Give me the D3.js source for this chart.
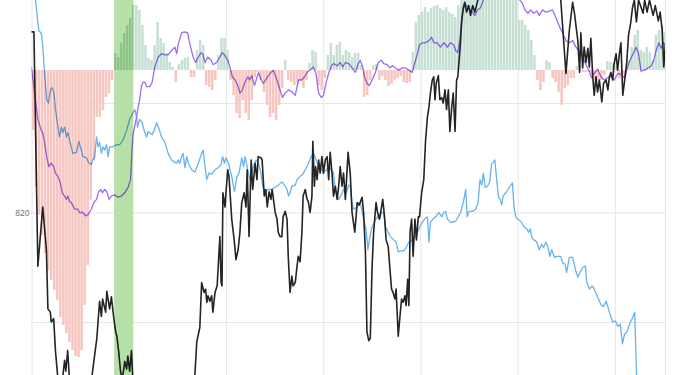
<!doctype html>
<html>
  <head>
    <meta charset="utf-8">
    <title>chart</title>
    <script src="https://cdn.jsdelivr.net/npm/d3@7"></script>
    <style>
      html, body { margin: 0; padding: 0; background: #fff; }
      svg { display: block; }
    </style>
  </head>
  <body>
    <svg width="685" height="375"></svg>
    <script>
      // histogram, one bar per step
      var histValues = [-6.0,-11.7,-14.5,-16.5,-18.3,-20.0,-21.0,-22.0,-23.0,-24.7,-25.5,-26.3,-27.2,-28.0,-28.6,-28.7,-28.0,-23.5,-19.5,-13.0,
        -9.0,-4.7,-4.7,-4.0,-2.7,-2.3,-1.0,1.7,1.3,2.7,3.7,4.5,5.2,6.5,6.5,6.0,4.5,2.5,1.2,1.0,
        2.5,4.8,3.2,2.7,1.7,0.8,0.3,-1.2,0.6,1.0,1.2,1.3,-0.7,-0.7,2.0,3.0,2.5,-1.5,-1.7,-2.0,
        -1.0,1.5,3.2,3.2,2.0,-1.0,-2.5,-4.3,-4.8,-3.0,-4.3,-5.0,-3.0,-0.7,-0.2,-1.0,-2.2,-3.5,-4.7,-4.3,
        -5.0,-3.5,-1.8,1.0,-1.0,-1.2,-1.5,-1.2,-1.0,-1.8,-1.0,0.7,2.0,1.8,-1.5,-2.0,-0.8,1.5,2.7,1.5,
        2.5,2.8,1.5,2.0,1.8,1.3,1.7,1.7,0.5,-2.7,-2.5,-1.0,0.5,0.6,-1.0,-0.6,-1.0,-1.6,-1.4,-1.0,
        -0.8,-0.6,-1.2,-1.3,-1.2,1.8,4.8,5.5,5.8,6.3,5.8,6.2,6.4,6.5,6.2,6.0,6.3,5.8,5.6,5.3,
        6.5,7.5,8.5,9.0,9.5,9.0,10.0,9.5,10.0,10.5,10.0,9.5,10.0,9.5,9.0,9.5,9.0,8.5,8.0,7.5,
        5.0,5.0,4.5,4.0,3.0,1.5,-1.0,-2.0,-1.2,1.0,0.8,-0.8,-1.2,-2.2,-3.5,-1.8,-1.5,-0.8,-0.8,0.4,
        0.5,-0.2,-0.2,-0.2,-0.5,-1.0,-1.0,-1.0,-0.5,0.9,0.8,0.7,0.4,-0.8,-0.4,-0.6,1.0,2.3,3.5,4.0,
        2.0,1.8,2.3,1.8,1.0,3.5,4.0,4.5,3.8];

      var blackPts = [[0,836.5],[0.8,836.5],[2.1,815.1],[3.7,820.5],[4.9,816.6],[5.4,811.2],[6.2,810.9],[6.5,810.0],[7.3,810.3],[7.9,807.3],
        [8.7,804.8],[9.6,803.0],[10.2,804.8],[10.9,806.5],[11.3,805.5],[11.9,807.4],[12.7,803.9],[15.8,802.1],[19.1,803.5],[20.1,805.5],
        [21.5,808.5],[22.4,811.9],[23.0,810.5],[23.4,812.1],[24.4,810.9],[24.8,812.8],[25.7,811.2],[26.3,812.3],[27.1,810.3],[27.7,809.1],
        [28.1,808.7],[28.7,807.3],[29.3,805.5],[29.9,804.8],[30.7,806.4],[31.3,805.7],[31.7,806.9],[32.3,805.5],[32.9,807.4],[33.5,803.9],
        [38.9,801.2],[48.8,801.2],[53.1,803.9],[53.8,805.3],[54.4,808.2],[55.4,809.5],[56.0,813.6],[56.8,812.7],[57.3,813.0],[57.7,811.8],
        [58.1,812.4],[58.7,811.9],[59.3,812.4],[59.7,810.9],[60.4,812.7],[61.1,813.3],[62.0,817.8],[62.4,813.6],[62.7,813.3],[63.0,821.8],
        [63.7,820.5],[64.0,821.8],[64.6,823.9],[65.0,823.3],[65.9,819.4],[66.7,817.5],[67.3,815.7],[68.0,816.6],[68.6,818.2],[69.2,820.9],
        [70.0,821.8],[70.6,820.5],[71.0,823.9],[71.6,817.8],[72.3,824.8],[72.8,822.1],[73.6,824.5],[74.2,823.0],[74.6,825.1],[75.5,825.0],
        [75.9,824.8],[76.6,821.5],[77.1,822.1],[77.6,820.5],[78.2,821.9],[78.8,821.2],[79.2,822.1],[79.5,821.5],[80.2,820.0],[80.8,819.4],
        [81.2,818.2],[81.8,817.8],[82.4,817.8],[82.8,819.6],[83.5,820.1],[84.1,819.4],[84.5,816.0],[85.1,812.7],[85.7,814.2],[86.1,813.3],
        [86.8,813.6],[87.4,815.1],[87.8,816.0],[88.4,815.5],[89.0,818.2],[89.4,821.5],[90.1,822.1],[90.7,821.2],[91.1,821.0],[91.7,820.0],
        [92.3,821.5],[92.6,826.5],[93.1,822.4],[93.5,824.2],[94.0,823.0],[94.5,824.8],[95.0,823.6],[95.6,825.1],[96.1,823.6],[96.7,824.8],
        [97.3,825.1],[97.8,823.0],[98.3,825.5],[98.9,823.6],[99.4,821.5],[100.0,822.4],[100.6,821.2],[101.1,822.4],[101.6,824.2],[102.2,822.4],
        [102.7,823.6],[103.3,821.2],[104.2,825.5],[104.9,823.6],[105.5,820.0],[106.4,818.2],[107.2,820.9],[107.9,820.7],[108.8,821.4],[109.3,820.0],
        [109.9,816.4],[110.4,809.1],[111.0,808.3],[111.5,808.5],[112.1,815.1],[112.6,818.2],[113.4,820.9],[113.9,820.0],[114.5,819.4],[115.1,820.3],
        [115.6,821.2],[116.2,819.6],[116.7,817.5],[117.4,816.9],[117.9,815.1],[118.5,813.0],[119.0,812.7],[119.6,812.1],[120.0,813.0],[120.7,808.7],
        [121.2,810.3],[121.8,812.1],[122.3,811.8],[122.9,812.4],[123.3,811.5],[123.8,813.9],[124.2,811.5],[124.6,818.2],[125.1,819.4],[125.6,816.0],
        [126.2,819.4],[126.7,817.5],[127.3,819.6],[127.7,819.6],[128.4,821.8],[129.1,823.0],[129.7,826.6],[130.3,828.7],[130.8,829.6],[131.3,830.9],
        [131.9,832.1],[132.4,832.4],[132.8,830.3],[133.2,831.8],[133.9,832.5],[134.4,830.3],[135.0,830.5],[135.5,830.0],[136.1,831.2],[136.6,829.4],
        [137.2,831.2],[137.7,827.4],[138.3,829.6],[138.8,830.9],[139.4,827.4],[139.9,832.1],[140.3,832.4],[141.0,834.8],[141.6,837.5],[142.1,838.7],
        [142.6,839.2],[143.2,838.3],[143.9,838.9],[144.5,838.0],[145.2,838.9],[145.9,838.3],[146.9,839.4],[149.5,841.2],[154.4,842.5],[161.0,842.1],
        [167.6,841.6],[172.9,840.3],[174.2,839.4],[175.9,832.7],[177.0,836.6],[178.1,839.2],[178.7,838.2],[179.8,835.7],[180.4,832.8],[180.8,836.4],
        [181.4,833.2],[181.9,835.1],[182.5,833.7],[183.1,835.0],[183.6,833.3],[184.1,835.9],[184.7,832.5],[185.2,830.7],[185.8,832.4],[186.3,831.0],
        [186.9,832.1],[187.7,830.1],[188.3,831.8],[189.1,832.1],[189.7,831.2],[190.2,832.4],[190.7,832.8],[191.3,832.1],[191.7,833.5],[192.4,834.5],
        [192.9,833.0],[193.5,834.5],[194.0,835.5],[194.6,830.7],[195.1,831.8],[195.9,833.7],[196.5,836.2],[197.2,837.3],[197.8,838.7],[198.4,839.4],
        [199.1,837.4],[199.8,839.4],[201.3,838.2],[201.8,839.4],[202.6,838.3],[203.4,839.4],[204.6,838.0],[205.3,838.9],[206.3,837.5],[206.9,838.3],
        [207.6,836.6],[208.1,833.3],[208.6,835.3]];

      var bluePts = [[0.3,842.1],[1.3,839.4],[2.4,836.6],[3.2,836.4],[3.7,835.3],[4.3,832.7],[5.0,830.3],[5.6,830.0],[6.2,831.2],[6.8,831.4],
        [7.4,830.9],[7.9,829.4],[8.7,827.8],[9.2,826.9],[9.8,827.8],[10.3,827.3],[10.9,827.8],[11.5,826.9],[12.0,827.3],[12.5,826.6],
        [13.1,826.0],[13.6,825.4],[14.8,825.5],[15.6,826.5],[16.4,825.7],[16.9,825.1],[18.1,825.0],[18.9,824.5],[19.7,824.4],[20.2,824.8],
        [20.8,825.1],[21.4,826.9],[21.9,826.0],[22.4,826.4],[23.0,825.4],[23.5,826.0],[24.1,825.7],[24.7,826.2],[25.2,825.1],[25.7,826.0],
        [26.8,826.0],[28.0,826.2],[29.0,826.2],[30.1,826.6],[31.3,827.5],[32.3,828.5],[33.4,829.1],[34.0,829.4],[34.6,828.7],[34.9,827.8],
        [35.6,828.5],[36.4,828.2],[37.3,827.3],[37.9,826.9],[38.4,827.4],[38.9,827.3],[39.7,827.1],[40.4,827.5],[41.2,828.2],[41.9,827.7],
        [42.8,826.9],[43.9,826.4],[45.0,825.4],[46.1,824.8],[47.0,824.6],[47.8,824.5],[48.3,824.8],[48.8,824.5],[49.4,825.1],[49.9,825.4],
        [50.5,824.1],[51.1,825.1],[51.6,824.5],[52.7,823.9],[53.8,823.7],[54.9,824.5],[56.0,825.4],[56.5,825.7],[57.1,824.2],[57.7,823.0],
        [58.4,823.6],[59.3,823.5],[60.4,823.9],[61.5,824.1],[62.4,824.4],[62.9,825.1],[63.5,824.5],[64.0,825.0],[64.8,824.5],[65.9,823.3],
        [66.8,821.9],[67.6,823.3],[68.3,823.6],[69.2,825.0],[69.8,824.2],[70.3,825.1],[71.4,823.6],[71.9,823.0],[73.0,824.2],[73.9,824.8],
        [74.7,824.5],[75.5,823.6],[76.1,822.4],[76.9,821.9],[78.0,822.1],[79.1,822.1],[80.2,822.3],[81.3,822.5],[82.4,822.8],[83.5,822.4],
        [84.1,822.1],[84.6,821.5],[85.1,821.8],[85.7,822.4],[86.8,822.5],[87.4,823.0],[88.4,823.3],[89.3,823.5],[90.1,823.9],[91.2,824.5],
        [92.0,825.1],[92.8,825.4],[93.7,824.8],[94.5,824.2],[95.6,823.9],[96.1,823.6],[97.0,823.9],[97.8,824.2],[98.7,823.9],[99.4,823.6],
        [100.0,822.1],[100.6,821.5],[101.1,821.2],[101.6,821.4],[102.7,822.1],[103.6,821.8],[104.4,822.5],[104.9,822.4],[105.5,820.9],[106.0,820.3],
        [107.2,820.5],[108.2,820.9],[109.3,819.4],[110.1,818.5],[110.7,816.6],[111.2,817.5],[112.1,818.7],[113.0,819.2],[113.8,819.6],[114.5,819.4],
        [115.2,820.0],[115.9,820.0],[116.5,818.7],[117.4,818.2],[118.1,817.8],[119.2,817.5],[120.0,817.3],[120.7,816.4],[121.4,816.5],[122.5,816.5],
        [123.3,816.8],[124.2,817.3],[125.3,817.5],[126.4,817.8],[127.5,818.5],[128.6,819.1],[129.7,819.5],[130.3,819.6],[130.8,817.3],[131.3,819.1],
        [132.1,819.4],[133.0,819.6],[134.1,820.0],[135.0,819.6],[135.7,820.0],[136.3,820.1],[136.9,819.4],[137.9,819.1],[139.6,819.2],[141.2,820.0],
        [142.1,820.9],[142.9,822.1],[143.4,819.6],[144.0,820.1],[145.1,820.1],[146.2,820.3],[147.0,820.9],[147.6,823.0],[148.2,822.5],[148.7,823.6],
        [149.3,822.3],[150.1,822.4],[150.8,822.8],[151.4,824.4],[152.0,824.6],[152.5,824.8],[153.1,823.0],[153.7,821.4],[154.2,821.2],[154.8,820.7],
        [155.2,821.5],[156.1,821.8],[156.8,822.1],[157.5,822.4],[158.3,822.7],[158.8,820.5],[159.4,819.6],[159.9,819.4],[161.0,819.2],[162.1,818.7],
        [163.0,818.5],[163.6,818.2],[164.1,818.5],[164.7,817.7],[165.4,817.5],[166.3,817.3],[167.1,816.6],[167.9,817.1],[168.5,816.8],[169.3,817.3],
        [169.9,816.9],[170.6,816.0],[171.2,816.6],[172.1,815.9],[172.9,816.0],[174.2,816.0],[174.8,815.4],[175.6,815.3],[176.1,814.5],[177.0,815.9],
        [178.1,815.9],[179.0,814.8],[179.8,814.1],[180.5,814.5],[181.4,815.0],[182.3,815.1],[182.7,813.7],[183.6,813.0],[184.5,813.3],[185.2,813.0],
        [186.3,812.3],[187.4,811.6],[188.2,811.4],[189.1,811.9],[189.7,811.4],[190.4,810.7],[191.3,810.0],[192.2,810.1],[193.0,809.6],[193.8,809.8],
        [194.5,808.0],[195.2,808.9],[196.0,809.1],[196.8,809.8],[197.7,810.3],[198.5,810.9],[199.2,804.8],[199.7,801.2]];

      var purplePts = [[0,833.2],[1.3,830.3],[2.1,828.5],[3.2,827.5],[3.7,827.3],[4.3,826.4],[5.0,825.1],[5.7,824.2],[6.5,824.5],[7.3,824.2],
        [7.9,823.6],[8.7,823.3],[9.5,822.7],[10.1,821.8],[10.9,821.5],[11.5,821.2],[12.0,821.5],[12.5,821.0],[13.1,820.9],[14.2,820.3],
        [15.3,820.3],[15.8,820.0],[16.9,820.0],[17.8,819.7],[18.6,819.8],[19.7,820.3],[20.5,820.9],[21.4,821.2],[22.1,821.9],[22.8,822.1],
        [23.3,821.8],[24.1,822.1],[24.8,821.9],[25.5,821.2],[26.3,821.5],[27.4,821.6],[28.5,821.4],[29.6,821.5],[30.7,821.8],[31.8,822.3],
        [32.6,823.0],[32.9,824.8],[33.4,827.1],[34.3,828.3],[35.1,829.6],[35.6,830.3],[36.2,831.6],[36.7,831.9],[37.3,831.9],[37.9,831.5],
        [38.9,831.5],[39.7,831.9],[40.6,833.3],[41.7,834.2],[42.8,834.5],[43.9,834.4],[45.0,834.4],[46.1,834.8],[47.2,835.1],[47.8,834.5],
        [48.3,835.4],[49.4,836.4],[50.3,836.5],[51.4,836.4],[52.1,835.4],[53.2,834.2],[54.0,833.7],[54.9,834.2],[55.8,834.6],[56.5,834.4],
        [57.1,833.7],[58.0,834.2],[59.1,833.9],[59.8,833.5],[60.9,833.7],[62.0,834.2],[62.8,834.6],[63.5,834.4],[64.6,833.9],[65.3,833.3],
        [66.1,832.4],[67.0,832.1],[67.9,831.6],[68.6,830.9],[69.4,831.2],[70.1,831.8],[71.2,832.4],[71.8,832.1],[72.5,832.5],[73.4,831.6],
        [74.7,832.8],[75.6,832.1],[76.3,831.8],[77.5,832.3],[78.5,832.7],[79.6,833.0],[80.8,832.1],[81.8,831.2],[82.6,830.5],[83.5,830.9],
        [84.6,831.2],[85.8,831.0],[86.8,830.7],[87.9,832.1],[88.9,832.1],[89.9,832.4],[90.7,832.8],[91.7,833.0],[92.8,833.3],[93.6,832.7],
        [94.5,830.9],[95.4,830.5],[96.1,830.7],[97.0,831.9],[97.8,832.7],[98.7,833.4],[99.4,833.6],[100.6,833.4],[101.6,833.7],[102.4,833.3],
        [103.3,833.7],[104.4,833.6],[105.3,833.3],[106.6,832.8],[107.5,833.6],[108.2,833.9],[109.0,833.3],[109.6,832.4],[110.4,831.8],[111.2,831.6],
        [112.1,832.1],[113.2,832.8],[114.1,833.7],[115.2,833.9],[115.9,833.6],[117.1,833.5],[117.9,833.2],[118.8,833.4],[119.8,833.2],[120.9,833.0],
        [121.9,833.2],[123.1,833.2],[124.2,833.0],[125.3,832.8],[126.1,833.6],[127.0,834.5],[127.7,835.3],[128.6,835.5],[129.7,835.5],[130.8,835.7],
        [131.7,836.0],[132.4,835.5],[133.5,835.5],[134.6,835.1],[135.7,835.5],[136.9,835.1],[137.9,835.5],[139.0,835.3],[139.6,834.8],[140.3,834.6],
        [141.0,835.7],[141.5,837.4],[142.1,838.6],[142.9,839.0],[143.9,838.6],[145.1,838.3],[145.9,838.0],[146.8,838.5],[147.8,838.7],[148.8,839.5],
        [151.1,840.7],[154.4,841.6],[157.7,840.7],[160.4,839.5],[161.6,839.1],[162.4,838.5],[163.4,838.2],[164.3,838.5],[165.3,838.2],[166.3,838.4],
        [167.1,838.0],[168.2,838.5],[169.3,838.3],[170.4,838.4],[171.5,838.5],[172.6,837.8],[173.7,837.0],[174.8,836.4],[175.9,835.7],[177.0,835.5],
        [178.1,835.7],[179.2,835.1],[180.3,834.7],[181.4,834.2],[182.5,833.5],[183.6,832.9],[184.3,832.3],[185.2,832.7],[186.3,833.1],[187.4,832.4],
        [188.5,832.1],[189.5,832.3],[190.7,832.4],[191.8,832.1],[193.0,832.7],[194.0,832.6],[195.1,832.3],[196.2,833.3],[197.3,834.1],[199.0,835.1],
        [199.8,834.5],[200.6,832.9],[201.8,833.0],[202.9,833.2],[204.0,833.4],[204.8,833.9],[205.6,834.8],[206.5,835.5],[207.2,835.0],[208.0,835.5],
        [208.6,835.3]];

      var band = [27.2, 33.5];
      var xTicks = [0, 32, 64, 96, 128, 160, 192, 208.5];
      var yTicks = [800, 810, 820, 830, 840];
      var yLabels = [820];

      var svg = d3.select('svg'),
          left = 31.5, right = 665, height = 375;

      var x = d3.scaleLinear().domain([0, 208.5]).range([left, right]);
      var y = d3.scaleLinear().domain([810, 830]).range([322, 103]);
      var yh = d3.scaleLinear().domain([-30, 10]).range([370, -30]);

      svg.append("defs").append("clipPath")
          .attr("id", "plot")
        .append("rect")
          .attr("x", left)
          .attr("y", 0)
          .attr("width", right - left)
          .attr("height", height);

      // grid
      var gx = svg.append("g")
          .attr("transform", "translate(0," + height + ")")
          .call(d3.axisBottom(x).tickValues(xTicks).tickSize(height).tickFormat(""));
      gx.select(".domain").remove();
      gx.selectAll(".tick line").attr("stroke", "#e6e6e6").attr("transform", "scale(1,-1)");

      var gy = svg.append("g")
          .attr("transform", "translate(" + left + ",0)")
          .call(d3.axisLeft(y)
            .tickValues(yTicks)
            .tickSize(-(right - left))
            .tickPadding(2)
            .tickFormat(function(d) { return yLabels.indexOf(d) >= 0 ? d : ""; }));
      gy.select(".domain").remove();
      gy.selectAll(".tick line").attr("stroke", "#e6e6e6");
      gy.selectAll(".tick text")
          .attr("fill", "#777")
          .attr("font-family", "Liberation Sans, Arial, sans-serif")
          .attr("font-size", "8.5px");

      var plot = svg.append("g").attr("clip-path", "url(#plot)");

      plot.append("rect")
          .attr("x", x(band[0]))
          .attr("y", 0)
          .attr("width", x(band[1]) - x(band[0]))
          .attr("height", height)
          .attr("fill", "#b7e0a8");

      plot.append("g")
          .style("mix-blend-mode", "multiply")
        .selectAll("rect")
        .data(histValues)
        .enter().append("rect")
          .attr("x", function(d, i) { return x(i) + 0.25; })
          .attr("width", function(d, i) { return x(i + 1) - x(i) - 0.5; })
          .attr("y", function(d) { return Math.min(yh(d), yh(0)); })
          .attr("height", function(d) { return Math.abs(yh(d) - yh(0)); })
          .attr("fill", function(d) { return d >= 0 ? "#c6e0d4" : "#f7c6c1"; });

      var line = d3.line()
          .x(function(d) { return x(d[0]); })
          .y(function(d) { return y(d[1]); });

      var lines = plot.append("g").style("mix-blend-mode", "multiply");

      [[bluePts, "#68b2f0", 1.3], [purplePts, "#9b6cf6", 1.3], [blackPts, "#242424", 1.6]].forEach(function(s) {
        lines.append("path")
          .datum(s[0])
          .attr("fill", "none")
          .attr("stroke", s[1])
          .attr("stroke-width", s[2])
          .attr("stroke-linejoin", "round")
          .attr("stroke-linecap", "round")
          .attr("d", line);
      });
    </script>
  </body>
</html>
